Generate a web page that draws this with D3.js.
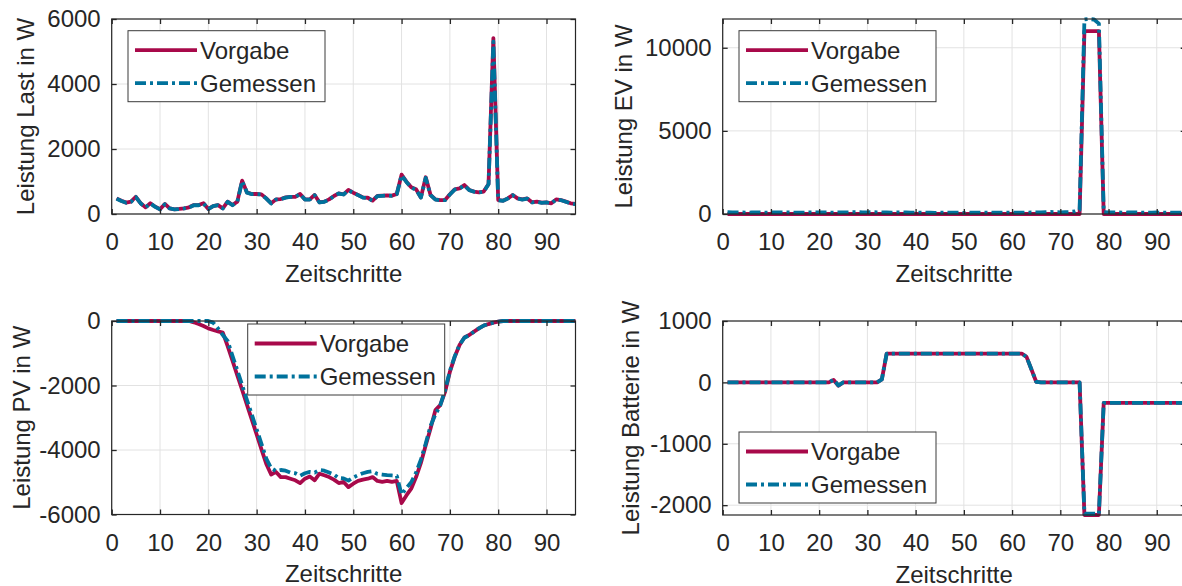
<!DOCTYPE html>
<html>
<head>
<meta charset="utf-8">
<script src="https://cdn.jsdelivr.net/npm/d3@7"></script>
<style>
  body { margin: 0; background: #fff; }
  svg text { font-family: "Liberation Sans", Arial, sans-serif; fill: #262626; }
</style>
</head>
<body>
<svg id="chart" width="1182" height="586"></svg>
<script>
// time steps 1..96
const steps = d3.range(1, 97);
const xTicks = [0, 10, 20, 30, 40, 50, 60, 70, 80, 90];

const lastVorgabe = [
  480, 410, 350, 380, 530, 330, 205, 330, 225, 145, 310, 175,
  145, 155, 175, 205, 275, 275, 330, 155, 245, 275, 175, 380,
  275, 380, 1025, 665, 615, 615, 605, 480, 330, 450, 460, 510,
  530, 530, 615, 450, 450, 585, 360, 380, 450, 555, 635, 605,
  740, 655, 585, 510, 500, 410, 555, 565, 575, 565, 615, 1210,
  995, 820, 760, 510, 1130, 585, 450, 430, 430, 605, 760, 790,
  890, 740, 690, 665, 690, 925, 5410, 430, 410, 480, 585, 480,
  450, 480, 360, 380, 350, 360, 330, 450, 430, 380, 330, 310
];
const lastGemessen = [
  470, 400, 345, 375, 520, 325, 200, 325, 220, 140, 300, 170,
  140, 150, 170, 200, 270, 270, 325, 150, 240, 270, 170, 375,
  270, 375, 1010, 655, 610, 610, 600, 475, 325, 445, 455, 505,
  525, 525, 610, 445, 445, 580, 355, 375, 445, 550, 630, 600,
  730, 650, 580, 505, 495, 405, 550, 560, 570, 560, 610, 1190,
  985, 815, 750, 505, 1110, 580, 445, 425, 425, 600, 750, 785,
  880, 735, 685, 660, 685, 915, 5300, 425, 405, 475, 580, 475,
  445, 475, 355, 375, 345, 355, 325, 445, 425, 375, 325, 305
];
const lastTicks = [0, 2000, 4000, 6000];

const evVorgabe = [
  0, 0, 0, 0, 0, 0, 0, 0, 0, 0, 0, 0,
  0, 0, 0, 0, 0, 0, 0, 0, 0, 0, 0, 0,
  0, 0, 0, 0, 0, 0, 0, 0, 0, 0, 0, 0,
  0, 0, 0, 0, 0, 0, 0, 0, 0, 0, 0, 0,
  0, 0, 0, 0, 0, 0, 0, 0, 0, 0, 0, 0,
  0, 0, 0, 0, 0, 0, 0, 0, 0, 0, 0, 0,
  0, 0, 11000, 11000, 11000, 11000, 0, 0, 0, 0, 0, 0,
  0, 0, 0, 0, 0, 0, 0, 0, 0, 0, 0, 0
];
const evGemessen = [
  110, 100, 95, 90, 85, 90, 95, 90, 85, 90, 95, 100,
  95, 90, 85, 80, 85, 90, 95, 100, 95, 90, 85, 90,
  95, 100, 105, 110, 100, 95, 110, 100, 95, 90, 85, 90,
  95, 90, 85, 80, 85, 80, 75, 70, 75, 80, 85, 80,
  75, 70, 75, 80, 85, 90, 85, 80, 75, 80, 85, 80,
  75, 80, 85, 90, 95, 100, 110, 120, 110, 100, 110, 120,
  150, 250, 11700, 11730, 11700, 11450, 110, 100, 95, 90, 85, 90,
  95, 90, 85, 80, 85, 90, 85, 80, 75, 80, 85, 80
];
const evTicks = [0, 5000, 10000];

const pvVorgabe = [
  0, 0, 0, 0, 0, 0, 0, 0, 0, 0, 0, 0,
  0, 0, 0, 0, -40, -95, -155, -230, -280, -320, -360, -780,
  -1230, -1690, -2140, -2600, -3060, -3520, -3980, -4430, -4760, -4680, -4840, -4840,
  -4890, -4940, -5025, -4890, -4820, -4940, -4735, -4785, -4840, -4920, -5025, -4990,
  -5150, -5045, -4960, -4920, -4890, -4840, -4960, -4990, -4960, -4990, -4960, -5645,
  -5410, -5200, -4840, -4400, -3850, -3335, -2765, -2610, -2200, -1575, -1110, -745,
  -510, -435, -330, -230, -145, -95, -50, -20, 0, 0, 0, 0,
  0, 0, 0, 0, 0, 0, 0, 0, 0, 0, 0, 0
];
const pvGemessen = [
  0, 0, 0, 0, 0, 0, 0, 0, 0, 0, 0, 0,
  0, 0, 0, 0, 0, 0, 0, 0, -50, -230, -435, -620,
  -1080, -1530, -1990, -2450, -2900, -3360, -3810, -4270, -4560, -4650, -4620, -4640,
  -4700, -4720, -4800, -4720, -4680, -4700, -4620, -4640, -4700, -4760, -4870, -4880,
  -4950, -4850, -4780, -4720, -4680, -4660, -4740, -4760, -4780, -4790, -4800, -5380,
  -5180, -5000, -4700, -4300, -3800, -3250, -2900, -2620, -2150, -1550, -1100, -740,
  -520, -440, -330, -230, -140, -90, -50, -20, 0, 0, 0, 0,
  0, 0, 0, 0, 0, 0, 0, 0, 0, 0, 0, 0
];
const pvTicks = [-6000, -4000, -2000, 0];

const batVorgabe = [
  0, 0, 0, 0, 0, 0, 0, 0, 0, 0, 0, 0,
  0, 0, 0, 0, 0, 0, 0, 0, 0, 0, 40, -55,
  0, 0, 0, 0, 0, 0, 0, 0, 50, 470, 470, 470,
  470, 470, 470, 470, 470, 470, 470, 470, 470, 470, 470, 470,
  470, 470, 470, 470, 470, 470, 470, 470, 470, 470, 470, 470,
  470, 470, 415, 215, 10, 0, 0, 0, 0, 0, 0, 0,
  0, 0, -2160, -2160, -2160, -2160, -335, -335, -335, -335, -335, -335,
  -335, -335, -335, -335, -335, -335, -335, -335, -335, -335, -335, -335
];
const batGemessen = [
  0, 0, 0, 0, 0, 0, 0, 0, 0, 0, 0, 0,
  0, 0, 0, 0, 0, 0, 0, 0, 0, 0, 45, -50,
  0, 0, 0, 0, 0, 0, 0, 0, 50, 470, 470, 470,
  470, 470, 470, 470, 470, 470, 470, 470, 470, 470, 470, 470,
  470, 470, 470, 470, 470, 470, 470, 470, 470, 470, 470, 470,
  470, 470, 415, 215, 10, 0, 0, 0, 0, 0, 0, 0,
  0, 0, -2140, -2140, -2140, -2140, -335, -335, -335, -335, -335, -335,
  -335, -335, -335, -335, -335, -335, -335, -335, -335, -335, -335, -335
];
const batTicks = [-2000, -1000, 0, 1000];

const seriesNames = ["Vorgabe", "Gemessen"];
const colVorgabe = "#a8094a";
const colGemessen = "#00729c";
const lineW = 3.8;
const dashGemessen = "11,4,3,4";

const panels = [
  { ylabel: "Leistung Last in W", v: lastVorgabe, m: lastGemessen, domain: [0, 6000], ticks: lastTicks,
    box: { x: 111.7, y: 19, w: 463.8, h: 195 }, labelX: 26, legend: { x: 128, y: 30.7 } },
  { ylabel: "Leistung EV in W", v: evVorgabe, m: evGemessen, domain: [0, d3.max(evGemessen)], ticks: evTicks,
    box: { x: 722.7, y: 19, w: 463, h: 195 }, labelX: 624, legend: { x: 739, y: 30.7 } },
  { ylabel: "Leistung PV in W", v: pvVorgabe, m: pvGemessen, domain: [-6000, 0], ticks: pvTicks,
    box: { x: 111.7, y: 321, w: 463.8, h: 193.5 }, labelX: 22, legend: { x: 247.7, y: 324 } },
  { ylabel: "Leistung Batterie in W", v: batVorgabe, m: batGemessen, domain: [d3.min(batVorgabe), 1000], ticks: batTicks,
    box: { x: 722.7, y: 321, w: 463, h: 194 }, labelX: 631, legend: { x: 739, y: 432 } }
];

const svg = d3.select("#chart");
const plain = d => String(d);

panels.forEach(function(p) {
  const w = p.box.w, h = p.box.h;
  const x = d3.scaleLinear().domain([0, 96]).range([0, w]);
  const y = d3.scaleLinear().domain(p.domain).range([h, 0]);

  const g = svg.append("g")
    .attr("transform", "translate(" + p.box.x + "," + p.box.y + ")");

  // grid
  g.append("g").selectAll("line").data(xTicks).join("line")
    .attr("x1", d => x(d)).attr("x2", d => x(d))
    .attr("y1", 0).attr("y2", h)
    .attr("stroke", "#e2e2e2");
  g.append("g").selectAll("line").data(p.ticks).join("line")
    .attr("x1", 0).attr("x2", w)
    .attr("y1", d => y(d)).attr("y2", d => y(d))
    .attr("stroke", "#e2e2e2");

  const line = d3.line().x((d, i) => x(steps[i])).y(d => y(d));

  g.append("path").datum(p.v)
    .attr("d", line)
    .attr("fill", "none")
    .attr("stroke", colVorgabe)
    .attr("stroke-width", lineW)
    .attr("stroke-linejoin", "round");

  g.append("path").datum(p.m)
    .attr("d", line)
    .attr("fill", "none")
    .attr("stroke", colGemessen)
    .attr("stroke-width", lineW)
    .attr("stroke-linejoin", "round")
    .attr("stroke-dasharray", dashGemessen);

  // axes, ticks pointing inward
  const ax = [
    g.append("g").attr("transform", "translate(0," + h + ")")
      .call(d3.axisBottom(x).tickValues(xTicks).tickFormat(plain).tickSize(-5).tickPadding(19)),
    g.append("g")
      .call(d3.axisLeft(y).tickValues(p.ticks).tickFormat(plain).tickSize(-5).tickPadding(11)),
    g.append("g")
      .call(d3.axisTop(x).tickValues(xTicks).tickSize(-5).tickFormat("")),
    g.append("g").attr("transform", "translate(" + w + ",0)")
      .call(d3.axisRight(y).tickValues(p.ticks).tickSize(-5).tickFormat(""))
  ];
  ax.forEach(a => {
    a.select(".domain").remove();
    a.selectAll(".tick line").attr("stroke", "#262626").attr("stroke-width", 1.3);
    a.selectAll(".tick text").style("font-size", "24px").attr("fill", "#262626");
  });

  g.append("rect")
    .attr("width", w).attr("height", h)
    .attr("fill", "none")
    .attr("stroke", "#262626")
    .attr("stroke-width", 1.2);

  g.append("text")
    .attr("x", w / 2).attr("y", h + 67.5)
    .attr("text-anchor", "middle")
    .style("font-size", "24px")
    .text("Zeitschritte");

  g.append("text")
    .attr("transform", "rotate(-90)")
    .attr("x", -h / 2)
    .attr("y", p.labelX - p.box.x)
    .attr("dy", "0.35em")
    .attr("text-anchor", "middle")
    .style("font-size", "24px")
    .text(p.ylabel);

  // legend
  const lg = svg.append("g")
    .attr("transform", "translate(" + p.legend.x + "," + p.legend.y + ")");
  lg.append("rect")
    .attr("width", 197).attr("height", 71)
    .attr("fill", "#fff")
    .attr("stroke", "#3a3a3a")
    .attr("stroke-width", 1);
  seriesNames.forEach(function(name, i) {
    const cy = 19.5 + i * 33;
    lg.append("line")
      .attr("x1", 7).attr("x2", 69)
      .attr("y1", cy).attr("y2", cy)
      .attr("stroke", i === 0 ? colVorgabe : colGemessen)
      .attr("stroke-width", lineW)
      .attr("stroke-dasharray", i === 0 ? null : dashGemessen);
    lg.append("text")
      .attr("x", 72).attr("y", cy)
      .attr("dy", "0.35em")
      .style("font-size", "24px")
      .attr("fill", "#000")
      .text(name);
  });
});
</script>
</body>
</html>
